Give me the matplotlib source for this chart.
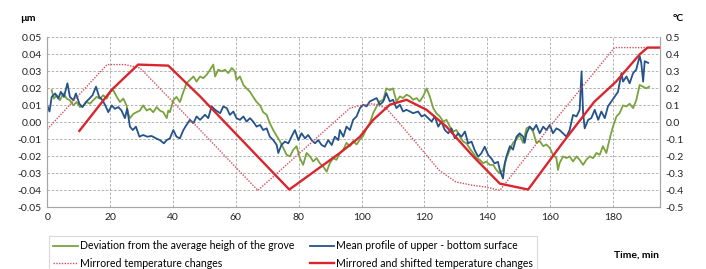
import matplotlib
matplotlib.use("Agg")
import matplotlib.pyplot as plt
from matplotlib.lines import Line2D

plt.rcParams['font.family'] = ['Lato', 'DejaVu Sans']

# Mean profile of upper - bottom surface (µm)
blue_t = [0.0, 0.7, 1.4, 2.5, 3.5, 4.3, 5.3, 6.4, 7.2, 8.3, 9.1, 10.2, 11.2, 12.3, 13.4, 14.4, 15.5, 16.5, 17.6,
          18.7, 19.4, 20.5, 21.5, 22.6, 23.6, 24.7, 25.4, 26.3, 27.2, 28.2, 29.3, 30.5, 31.8, 33.2, 34.6, 35.8,
          37.1, 38.0, 39.0, 40.1, 41.1, 42.2, 43.3, 44.3, 45.4, 46.5, 47.5, 48.6, 50.2, 51.2, 52.3, 53.4, 55.0,
          56.0, 57.1, 58.1, 59.2, 60.2, 61.3, 62.4, 63.4, 64.5, 65.5, 66.6, 67.7, 68.7, 69.8, 70.8, 71.9, 73.0,
          73.5, 74.5, 75.6, 76.7, 77.7, 78.8, 79.9, 80.9, 82.0, 83.0, 84.1, 85.2, 86.2, 87.3, 88.3, 89.4, 90.5,
          91.5, 92.6, 93.1, 94.2, 95.2, 96.3, 97.3, 98.4, 99.5, 100.5, 101.6, 102.6, 103.7, 104.8, 105.8, 106.9,
          107.9, 109.0, 110.0, 111.1, 112.2, 113.2, 114.3, 115.4, 116.4, 118.0, 119.1, 120.1, 121.2, 122.3, 123.3,
          124.4, 125.4, 126.5, 127.6, 128.6, 129.7, 130.7, 131.8, 132.9, 133.9, 135.0, 136.0, 137.1, 138.1, 139.2,
          140.3, 141.3, 142.3, 143.4, 144.0, 145.0, 145.6, 146.1, 147.2, 148.2, 149.3, 150.3, 151.4, 151.9, 152.5,
          153.5, 154.6, 155.6, 156.7, 157.8, 158.8, 159.9, 160.9, 162.0, 163.0, 164.1, 165.2, 166.2, 167.3, 168.4,
          169.4, 170.0, 170.5, 171.0, 172.1, 173.1, 174.2, 175.3, 176.3, 177.4, 178.4, 179.5, 180.6, 181.6, 182.7,
          183.2, 184.3, 185.3, 186.4, 187.4, 188.5, 189.0, 189.6, 190.1, 191.2]
blue_v = [0.010, 0.0064, 0.015, 0.017, 0.014, 0.018, 0.015, 0.023, 0.015, 0.013, 0.017, 0.011, 0.009, 0.012, 0.014,
          0.016, 0.021, 0.015, 0.013, 0.009, 0.006, 0.010, 0.008, 0.009, 0.007, 0.0025, 0.008, -0.0025, -0.0045,
          -0.0025, -0.0084, -0.0074, -0.0084, -0.008, -0.0094, -0.0104, -0.0123, -0.0104, -0.0094, -0.0045,
          -0.0084, -0.0094, -0.0045, -0.0015, 0.0015, -0.0005, 0.0035, 0.0015, 0.0045, 0.0025, 0.0094, 0.0074,
          0.0054, 0.0094, 0.0084, 0.0044, 0.0064, 0.0025, 0.0015, 0.0035, 0.0005, 0.0025, 0.0005, -0.0025,
          -0.0015, -0.0045, -0.0035, -0.0084, -0.0104, -0.0133, -0.018, -0.0133, -0.0113, -0.0123, -0.0084,
          -0.0045, -0.0104, -0.0064, -0.0094, -0.0074, -0.0104, -0.0123, -0.0104, -0.0133, -0.0143, -0.0104,
          -0.0133, -0.0084, -0.0104, -0.0045, -0.0084, -0.0025, -0.0045, 0.0015, 0.0035, 0.0084, 0.0104, 0.0094,
          0.0123, 0.0133, 0.0143, 0.0104, 0.0123, 0.0172, 0.0123, 0.0133, 0.0084, 0.0104, 0.0064, 0.0074, 0.0064,
          0.0054, 0.0064, 0.0035, 0.0044, 0.0025, 0.0005, 0.0035, -0.0025, 0.0005, -0.0045, -0.0064, -0.0035,
          -0.0094, -0.0064, -0.0084, -0.0054, -0.0123, -0.0113, -0.0163, -0.0202, -0.0182, -0.0143, -0.0192,
          -0.0212, -0.0241, -0.0232, -0.028, -0.033, -0.024, -0.020, -0.014, -0.016, -0.0084, -0.0064, -0.0084,
          -0.012, -0.0064, -0.0025, -0.0045, -0.0015, -0.0064, -0.0025, -0.0045, -0.0015, -0.0064, -0.0035,
          -0.0045, -0.0064, -0.0084, -0.0045, 0.0044, 0.0035, 0.0074, 0.030, 0.0054, -0.0035, 0.0015, 0.0025,
          0.0074, 0.0015, 0.0064, 0.0025, 0.0094, 0.0123, 0.0153, 0.018, 0.029, 0.024, 0.027, 0.023, 0.029, 0.031,
          0.039, 0.035, 0.024, 0.036, 0.035]

# Deviation from the average height of the grove (µm)
green_t = [1.4, 2.1, 3.0, 4.0, 5.1, 6.2, 7.2, 8.3, 9.3, 10.4, 11.5, 12.5, 13.6, 14.6, 15.7, 16.8, 17.8, 18.9, 20.0,
           21.0, 22.1, 23.1, 24.2, 25.2, 25.8, 26.3, 27.4, 28.4, 29.5, 30.5, 31.6, 32.7, 33.7, 34.8, 35.8, 36.9,
           38.0, 38.5, 39.0, 40.1, 41.1, 42.2, 43.3, 44.3, 45.4, 46.5, 47.5, 48.6, 49.6, 50.7, 51.8, 52.8, 53.4,
           54.4, 55.5, 56.5, 57.6, 58.7, 59.7, 60.2, 61.3, 62.4, 63.4, 64.5, 65.5, 66.6, 67.7, 68.7, 69.8, 70.8,
           71.9, 73.0, 74.0, 75.1, 76.1, 77.2, 78.3, 79.3, 80.4, 81.4, 82.5, 83.6, 84.6, 85.7, 86.7, 87.8, 88.9,
           89.9, 91.0, 92.0, 93.1, 94.2, 95.2, 96.3, 97.3, 98.4, 99.5, 100.5, 101.6, 102.6, 103.7, 104.8, 105.8,
           106.9, 107.9, 109.0, 110.0, 111.1, 112.2, 113.2, 114.3, 115.4, 116.4, 117.5, 118.5, 119.6, 120.7, 121.7,
           122.8, 123.8, 124.9, 126.0, 127.0, 128.1, 129.1, 130.2, 131.3, 132.3, 133.4, 134.4, 135.5, 136.6, 137.6,
           138.7, 139.7, 140.8, 141.9, 142.9, 144.0, 145.0, 146.1, 147.2, 148.2, 149.3, 150.3, 151.4, 152.5, 153.5,
           154.6, 155.6, 156.7, 157.8, 158.8, 159.9, 160.9, 162.0, 162.5, 163.0, 164.1, 165.2, 166.2, 167.3, 168.4,
           169.4, 170.5, 171.5, 172.6, 173.7, 174.7, 175.8, 176.8, 177.9, 178.9, 180.0, 181.1, 182.1, 183.2, 184.3,
           185.3, 186.4, 187.4, 188.5, 189.6, 190.6, 191.5]
green_v = [0.019, 0.014, 0.016, 0.013, 0.017, 0.014, 0.013, 0.010, 0.012, 0.009, 0.010, 0.012, 0.011, 0.013, 0.015,
           0.014, 0.016, 0.014, 0.018, 0.019, 0.015, 0.012, 0.014, 0.010, 0.005, 0.0025, 0.005, 0.006, 0.007,
           0.010, 0.007, 0.008, 0.006, 0.009, 0.007, 0.006, 0.0025, 0.007, 0.006, 0.013, 0.015, 0.012, 0.018,
           0.023, 0.025, 0.027, 0.024, 0.027, 0.026, 0.028, 0.031, 0.034, 0.027, 0.031, 0.030, 0.031, 0.029, 0.032,
           0.030, 0.025, 0.027, 0.022, 0.020, 0.018, 0.015, 0.012, 0.010, 0.006, 0.0045, -0.0005, -0.0045, -0.008,
           -0.011, -0.015, -0.019, -0.020, -0.016, -0.014, -0.021, -0.025, -0.018, -0.020, -0.023, -0.021, -0.024,
           -0.026, -0.029, -0.024, -0.021, -0.022, -0.018, -0.016, -0.012, -0.014, -0.011, -0.013, -0.010, -0.008,
           -0.0035, -0.0005, 0.0054, 0.0094, 0.0123, 0.0133, 0.020, 0.019, 0.020, 0.0123, 0.0153, 0.0143, 0.0163,
           0.0153, 0.0133, 0.0143, 0.0123, 0.0153, 0.020, 0.0153, 0.0084, 0.0054, 0.0035, 0.0005, 0.0015, -0.0025,
           -0.0054, -0.0045, -0.0084, -0.0113, -0.0123, -0.0153, -0.018, -0.021, -0.022, -0.024, -0.023, -0.025,
           -0.025, -0.028, -0.030, -0.028, -0.021, -0.016, -0.012, -0.010, -0.0074, -0.012, -0.0035, -0.0025,
           -0.0054, -0.012, -0.011, -0.014, -0.013, -0.015, -0.019, -0.021, -0.028, -0.024, -0.020, -0.021, -0.020,
           -0.023, -0.020, -0.022, -0.025, -0.022, -0.020, -0.021, -0.018, -0.019, -0.014, -0.018, -0.010, -0.0025,
           0.0035, 0.0054, 0.010, 0.0094, 0.011, 0.0084, 0.013, 0.022, 0.021, 0.020, 0.021]

# Mirrored temperature changes (°C)
mirror_t = [0, 19, 24.7, 29.5, 48.6, 67, 96.3, 99.3, 103.6, 107.8, 113, 119.3, 124.6, 130, 135.3, 139.6, 144,
            161, 180.5, 195]
mirror_v = [-0.04, 0.34, 0.34, 0.32, -0.044, -0.40, 0.084, 0.098, 0.11, 0.084, -0.025, -0.163, -0.28, -0.35,
            -0.37, -0.38, -0.40, 0.0, 0.44, 0.44]

# Mirrored and shifted temperature changes (°C)
shift_t = [10.2, 20.5, 28.9, 38.5, 48.6, 77, 93.1, 96.3, 99.5, 103.7, 109, 114.3, 120.7, 127, 135.5, 144, 153,
           164, 174, 181, 188.5, 191, 195]
shift_v = [-0.05, 0.192, 0.34, 0.334, 0.153, -0.395, -0.18, -0.133, -0.084, 0.015, 0.104, 0.133, 0.074, -0.025,
           -0.20, -0.36, -0.395, -0.12, 0.12, 0.24, 0.40, 0.44, 0.44]

c_green = '#7aa23e'
c_blue = '#24528a'
c_red = '#d9262e'
c_dot = '#d4505e'

fig = plt.figure(figsize=(7.06, 2.69), dpi=100)
ax = fig.add_axes([0.067, 0.229, 0.868, 0.632])
ax2 = ax.twinx()

ax.plot(green_t, green_v, color=c_green, lw=1.3)
ax.plot(blue_t, blue_v, color=c_blue, lw=1.3)
ax2.plot(mirror_t, mirror_v, color=c_dot, lw=1.0, ls=(0, (1, 1)))
ax2.plot(shift_t, shift_v, color=c_red, lw=1.7)

ax.set_xlim(0, 195)
ax.set_ylim(-0.05, 0.05)
ax2.set_ylim(-0.5, 0.5)
ax.set_xticks(range(0, 181, 20))
ax.set_yticks([i / 100 for i in range(-5, 6)])
ax2.set_yticks([i / 10 for i in range(-5, 6)])
ax.set_yticklabels([f'{i / 100:.2f}' for i in range(-5, 6)])
ax2.set_yticklabels([f'{i / 10:.1f}' for i in range(-5, 6)])

ax.grid(True, color='#a6a6a6', ls=(0, (3, 2)), lw=0.6)
ax.set_axisbelow(True)
for a in (ax, ax2):
    a.tick_params(length=0, labelsize=7.5, colors='#222222', pad=4)
    for s in a.spines.values():
        s.set_color('#a6a6a6')
        s.set_linewidth(0.8)
    a.spines['top'].set_visible(False)

fig.text(0.028, 0.93, 'µm', fontsize=7.5, fontweight='bold', ha='left', va='center')
fig.text(0.953, 0.93, '°C', fontsize=7.5, fontweight='bold', ha='left', va='center')
fig.text(0.934, 0.052, 'Time, min', fontsize=7.5, fontweight='bold', ha='right', va='center')

handles = [Line2D([], [], color=c_green, lw=1.3),
           Line2D([], [], color=c_dot, lw=1.0, ls=(0, (1, 1))),
           Line2D([], [], color=c_blue, lw=1.3),
           Line2D([], [], color=c_red, lw=1.7)]
labels = ['Deviation from the average heigh of the grove',
          'Mirrored temperature changes',
          'Mean profile of upper - bottom surface',
          'Mirrored and shifted temperature changes']
leg = fig.legend(handles, labels, ncol=2, loc='upper left', bbox_to_anchor=(0.062, 0.142),
                 fontsize=7.6, frameon=True, fancybox=False, handlelength=2.3, handletextpad=0.2,
                 columnspacing=1.5, borderpad=0.4, labelspacing=0.6)
leg.get_frame().set_edgecolor('#d0d0d0')
leg.get_frame().set_linewidth(0.8)

fig.savefig('out.png', dpi=100)
